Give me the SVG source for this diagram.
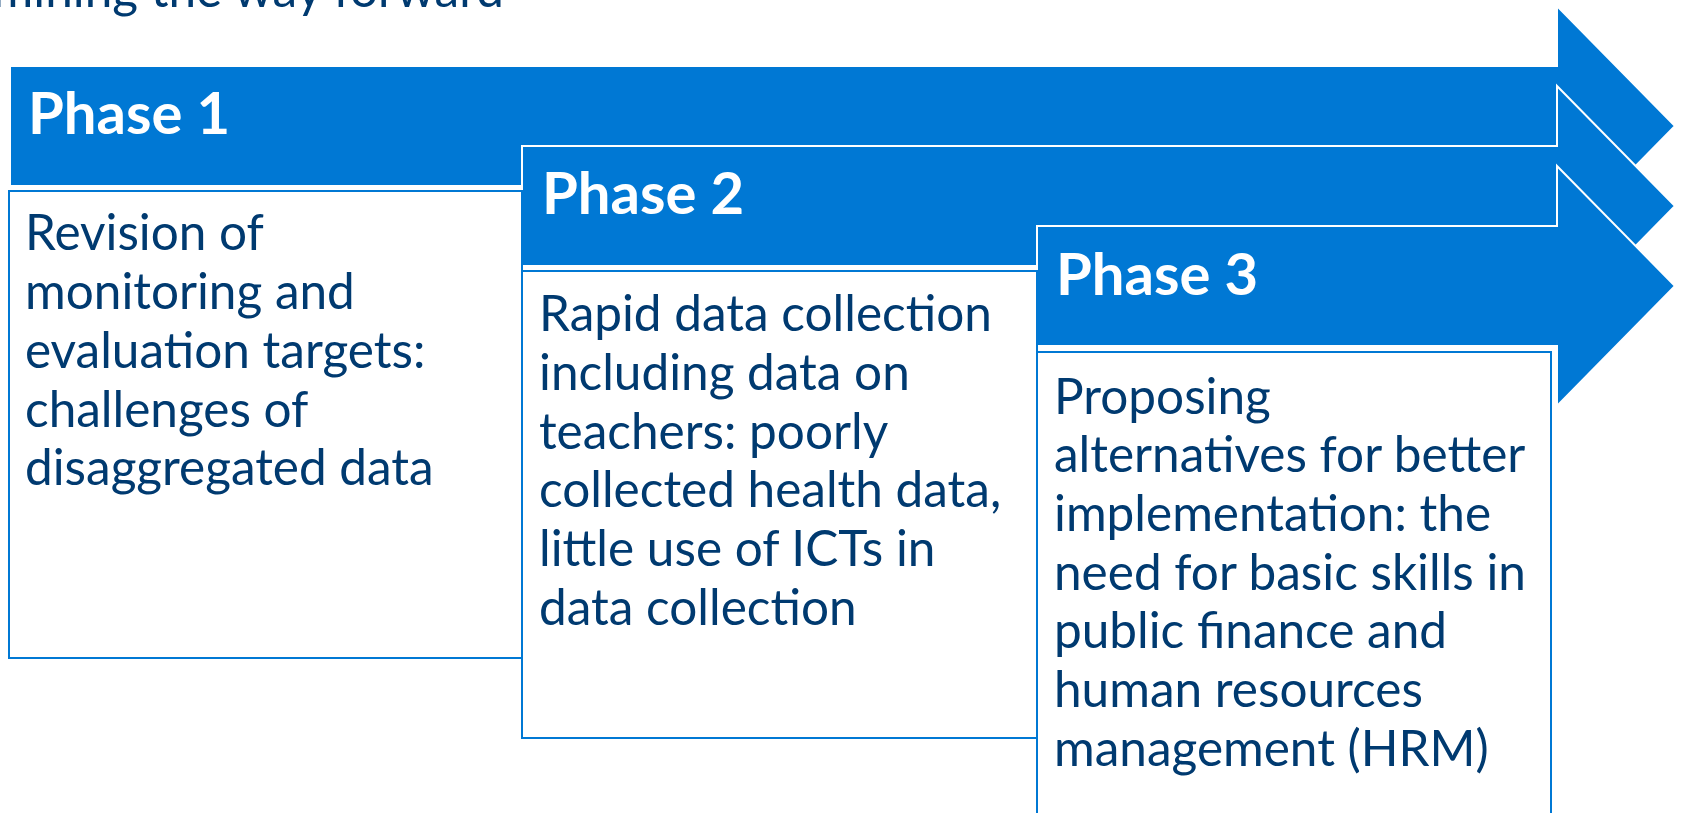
<svg xmlns="http://www.w3.org/2000/svg" width="1681" height="813" viewBox="0 0 1681 813">
  <style>
    .arrow { fill: #0078D4; stroke: #FFFFFF; stroke-width: 2; }
    .box { fill: #FFFFFF; stroke: #0078D4; stroke-width: 2; }
    .phase { font-family: Lato, "Liberation Sans", sans-serif; font-weight: bold; font-size: 58px; fill: #FFFFFF; }
    .body { font-family: Lato, "Liberation Sans", sans-serif; font-size: 49.5px; fill: #003A70; }
  </style>
  <rect width="1681" height="813" fill="#FFFFFF"/>

  <!-- heading, partly above the top edge -->
  <text class="body" x="504" y="7" text-anchor="end">Determining the way forward</text>

  <!-- phase arrows, each drawn over the one before -->
  <g id="arrows">
    <path id="arrow-1" class="arrow" d="M10,66 H1557 V6 L1675,126 L1557,246 V186 H10 Z"/>
    <path id="arrow-2" class="arrow" d="M522,146 H1557 V86 L1675,206 L1557,326 V266 H522 Z"/>
    <path id="arrow-3" class="arrow" d="M1037,226 H1557 V166 L1675,286 L1557,406 V346 H1037 Z"/>
  </g>

  <g id="phase-1">
    <text class="phase" x="28" y="134">Phase 1</text>
    <rect class="box" x="9" y="191" width="513" height="467"/>
    <text class="body">
      <tspan x="25" y="250">Revision of</tspan>
      <tspan x="25" y="309">monitoring and</tspan>
      <tspan x="25" y="368">evaluation targets:</tspan>
      <tspan x="25" y="427">challenges of</tspan>
      <tspan x="25" y="485">disaggregated data</tspan>
    </text>
  </g>

  <g id="phase-2">
    <text class="phase" x="542" y="214">Phase 2</text>
    <rect class="box" x="522" y="271" width="515" height="467"/>
    <text class="body">
      <tspan x="539" y="331">Rapid data collection</tspan>
      <tspan x="539" y="390">including data on</tspan>
      <tspan x="539" y="449">teachers: poorly</tspan>
      <tspan x="539" y="507">collected health data,</tspan>
      <tspan x="539" y="566">little use of ICTs in</tspan>
      <tspan x="539" y="625">data collection</tspan>
    </text>
  </g>

  <g id="phase-3">
    <text class="phase" x="1056" y="295">Phase 3</text>
    <rect class="box" x="1037" y="352" width="514" height="500"/>
    <text class="body">
      <tspan x="1054" y="414">Proposing</tspan>
      <tspan x="1054" y="472">alternatives for better</tspan>
      <tspan x="1054" y="531">implementation: the</tspan>
      <tspan x="1054" y="590">need for basic skills in</tspan>
      <tspan x="1054" y="648">public finance and</tspan>
      <tspan x="1054" y="707">human resources</tspan>
      <tspan x="1054" y="766">management (HRM)</tspan>
    </text>
  </g>
</svg>
